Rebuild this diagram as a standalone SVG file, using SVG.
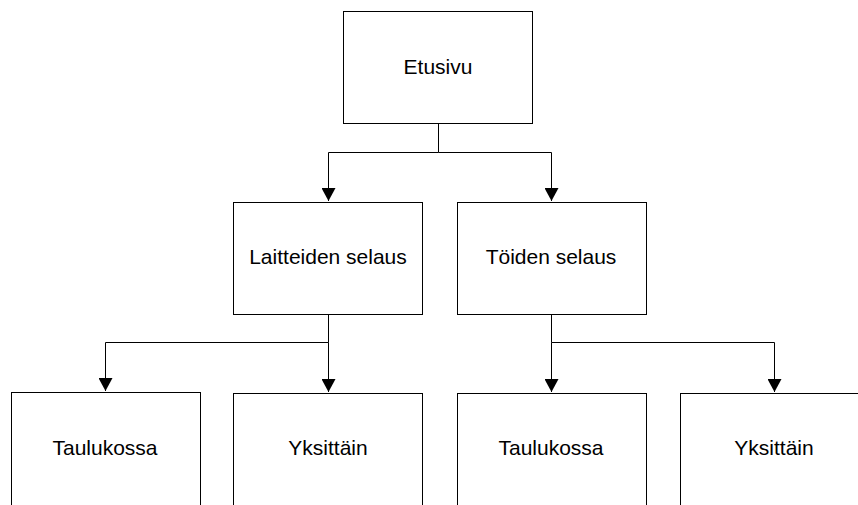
<svg xmlns="http://www.w3.org/2000/svg" width="858" height="505" viewBox="0 0 858 505">
  <style>
    .box { fill: #ffffff; stroke: #000000; stroke-width: 1; }
    .lbl { font-family: "Liberation Sans", Arial, sans-serif; font-size: 21px; fill: #000000; text-anchor: middle; }
    .wire { fill: none; stroke: #000000; stroke-width: 1; }
  </style>
  <defs>
    <marker id="arrow" markerWidth="14" markerHeight="13" refX="7" refY="13" orient="0" markerUnits="userSpaceOnUse">
      <path d="M0,0 L14,0 L7,13 Z" fill="#000000"/>
    </marker>
  </defs>
  <rect width="858" height="505" fill="#ffffff"/>

  <g id="connectors">
    <path class="wire" d="M438.5,123 V152.5 H328.5 V201" marker-end="url(#arrow)"/>
    <path class="wire" d="M438.5,152.5 H551.5 V201" marker-end="url(#arrow)"/>
    <path class="wire" d="M328.5,314 V342.5 H105.5 V391" marker-end="url(#arrow)"/>
    <path class="wire" d="M328.5,342.5 V392" marker-end="url(#arrow)"/>
    <path class="wire" d="M551.5,314 V342.5 V392" marker-end="url(#arrow)"/>
    <path class="wire" d="M551.5,342.5 H774.5 V392" marker-end="url(#arrow)"/>
  </g>

  <g id="etusivu">
    <rect class="box" x="343.5" y="11.5" width="189" height="112"/>
    <text class="lbl" x="438" y="74">Etusivu</text>
  </g>
  <g id="laitteiden-selaus">
    <rect class="box" x="233.5" y="202.5" width="189" height="112"/>
    <text class="lbl" x="328" y="264">Laitteiden selaus</text>
  </g>
  <g id="toiden-selaus">
    <rect class="box" x="457.5" y="202.5" width="189" height="112"/>
    <text class="lbl" x="551" y="264">Töiden selaus</text>
  </g>
  <g id="laitteet-taulukossa">
    <rect class="box" x="11.5" y="392.5" width="189" height="120"/>
    <text class="lbl" x="105" y="455">Taulukossa</text>
  </g>
  <g id="laitteet-yksittain">
    <rect class="box" x="233.5" y="393.5" width="189" height="120"/>
    <text class="lbl" x="328" y="455">Yksittäin</text>
  </g>
  <g id="tyot-taulukossa">
    <rect class="box" x="457.5" y="393.5" width="189" height="120"/>
    <text class="lbl" x="551" y="455">Taulukossa</text>
  </g>
  <g id="tyot-yksittain">
    <rect class="box" x="680.5" y="393.5" width="189" height="120"/>
    <text class="lbl" x="774" y="455">Yksittäin</text>
  </g>
</svg>
